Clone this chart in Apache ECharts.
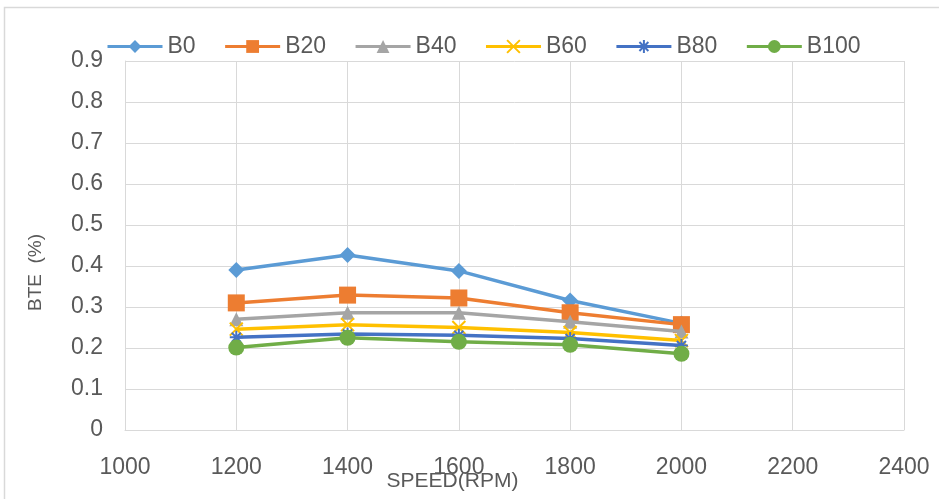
<!DOCTYPE html>
<html>
<head>
<meta charset="utf-8">
<script src="https://cdn.jsdelivr.net/npm/echarts@6/dist/echarts.min.js"></script>
<style>
  html, body { margin: 0; padding: 0; background: #fff; }
  #chart { width: 939px; height: 499px; }
</style>
</head>
<body>
<div id="chart"></div>
<script>
// Engine speed (RPM) and brake thermal efficiency per blend
const speeds = [1200, 1400, 1600, 1800, 2000];
const seriesNames = ['B0', 'B20', 'B40', 'B60', 'B80', 'B100'];
const b0   = [0.390, 0.427, 0.388, 0.316, 0.260];
const b20  = [0.310, 0.329, 0.322, 0.286, 0.257];
const b40  = [0.270, 0.286, 0.286, 0.264, 0.240];
const b60  = [0.246, 0.257, 0.250, 0.238, 0.218];
const b80  = [0.226, 0.234, 0.231, 0.223, 0.206];
const b100 = [0.201, 0.225, 0.215, 0.208, 0.186];
const yTicks = [0, 0.1, 0.2, 0.3, 0.4, 0.5, 0.6, 0.7, 0.8, 0.9];
const xTicks = [1000, 1200, 1400, 1600, 1800, 2000, 2200, 2400];

const values = [b0, b20, b40, b60, b80, b100];
const colors = ['#5B9BD5', '#ED7D31', '#A5A5A5', '#FFC000', '#4472C4', '#70AD47'];
const crossPath = 'path://M0,0L10,10M10,0L0,10';
const starPath = 'path://M5,0L5,10M0,5L10,5M1.5,1.5L8.5,8.5M8.5,1.5L1.5,8.5';
const markers = [
  { symbol: 'diamond', size: 16 },
  { symbol: 'rect', size: 17 },
  { symbol: 'triangle', size: 14 },
  { symbol: crossPath, size: 13, stroke: true },
  { symbol: starPath, size: 13, stroke: true },
  { symbol: 'circle', size: 16 }
];

const FONT = '"Liberation Sans", Arial, sans-serif';
const TXT = '#595959';

const chart = echarts.init(document.getElementById('chart'));
chart.setOption({
  backgroundColor: '#fff',
  animation: false,
  graphic: [{
    type: 'rect',
    shape: { x: 4.5, y: 7.5, width: 960, height: 520 },
    style: { fill: 'none', stroke: '#d9d9d9', lineWidth: 1.5 },
    silent: true
  }],
  legend: {
    top: 30,
    left: 101,
    itemWidth: 55,
    itemHeight: 16,
    itemGap: 28,
    lineStyle: { width: 3 },
    textStyle: { fontFamily: FONT, fontSize: 23, color: TXT },
    data: seriesNames
  },
  grid: { left: 125, right: 35, top: 61, bottom: 69, containLabel: false, outerBoundsMode: 'none' },
  xAxis: {
    type: 'value',
    min: xTicks[0],
    max: xTicks[xTicks.length - 1],
    interval: 200,
    name: 'SPEED(RPM)',
    nameLocation: 'middle',
    nameGap: 41,
    nameMoveOverlap: false,
    nameTextStyle: { fontFamily: FONT, fontSize: 21, color: TXT, padding: [0, 124, 0, 0] },
    axisLine: { show: true, lineStyle: { color: '#d9d9d9', width: 1 } },
    axisTick: { show: false },
    axisLabel: { fontFamily: FONT, fontSize: 23, color: TXT, margin: 26,
      formatter: v => String(v) },
    splitLine: { show: true, lineStyle: { color: '#d9d9d9', width: 1 } }
  },
  yAxis: {
    type: 'value',
    min: yTicks[0],
    max: yTicks[yTicks.length - 1],
    interval: 0.1,
    name: 'BTE  (%)',
    nameLocation: 'middle',
    nameGap: 80,
    nameMoveOverlap: false,
    nameTextStyle: { fontFamily: FONT, fontSize: 19, color: TXT, padding: [0, 54, 0, 0] },
    axisLine: { show: true, lineStyle: { color: '#d9d9d9', width: 1 } },
    axisTick: { show: false },
    axisLabel: { fontFamily: FONT, fontSize: 23, color: TXT, margin: 22,
      formatter: v => String(Math.round(v * 10) / 10) },
    splitLine: { show: true, lineStyle: { color: '#d9d9d9', width: 1 } }
  },
  series: seriesNames.map((name, i) => {
    const m = markers[i];
    return {
      name,
      type: 'line',
      data: speeds.map((s, j) => [s, values[i][j]]),
      symbol: m.symbol,
      symbolSize: m.size,
      lineStyle: { color: colors[i], width: 3.5 },
      itemStyle: m.stroke
        ? { color: colors[i], borderColor: colors[i], borderWidth: 2 }
        : { color: colors[i], borderWidth: 0 },
      z: 2 + i
    };
  })
});
</script>
</body>
</html>
